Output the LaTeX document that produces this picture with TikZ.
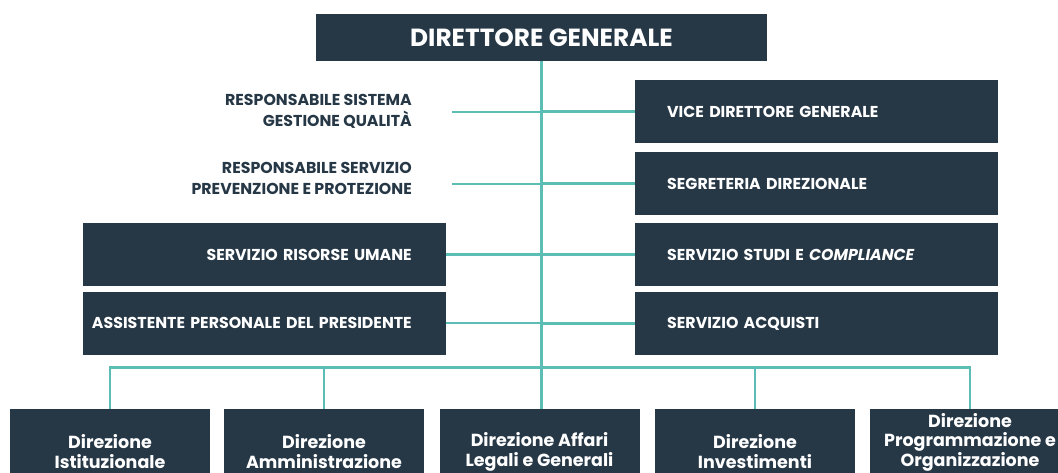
\documentclass[tikz,border=0pt]{standalone}
\usepackage{fontspec}
\setmainfont{Poppins}
\usetikzlibrary{positioning}

\definecolor{boxnavy}{HTML}{263746}
\definecolor{lineteal}{HTML}{5CBDB4}

\tikzset{
  conn/.style={draw=lineteal, line width=2.6pt},
  rbox/.style={fill=boxnavy, text=white, minimum height=63, text width=299,
    inner xsep=32, inner ysep=0, align=left, anchor=west,
    font=\bfseries\fontsize{15.8}{18}\selectfont},
  lbox/.style={rbox, text width=345, inner xsep=9, align=right, anchor=east,
    execute at end node={\hspace*{25pt}}},
  plain/.style={text=boxnavy, inner sep=0, align=right, anchor=east,
    font=\bfseries\fontsize{15.8}{21}\selectfont},
  bbox/.style={fill=boxnavy, text=white, minimum width=200, minimum height=85,
    inner sep=0, align=center, anchor=north,
    font=\bfseries\fontsize{17.5}{20}\selectfont}
}

\begin{document}
\begin{tikzpicture}[x=1pt,y=-1pt]
\clip (0,0) rectangle (1058,473);

\node[fill=boxnavy, text=white, minimum width=451, minimum height=47,
  font=\bfseries\fontsize{24.8}{28}\selectfont] (dg) at (541.5,37.5) {DIRETTORE GENERALE};

\node[rbox] (vdg) at (635,111.5) {VICE DIRETTORE GENERALE};
\node[rbox] (segr) at (635,183.5) {SEGRETERIA DIREZIONALE};
\node[rbox] (studi) at (635,254.5) {SERVIZIO STUDI E \textit{COMPLIANCE}};
\node[rbox] (acq) at (635,323.5) {SERVIZIO ACQUISTI};

\node[plain] (rsq) at (412,111) {RESPONSABILE SISTEMA\\GESTIONE QUALITÀ};
\node[plain] (rspp) at (412,178) {RESPONSABILE SERVIZIO\\PREVENZIONE E PROTEZIONE};
\node[lbox] (ru) at (446,254.5) {SERVIZIO RISORSE UMANE};
\node[lbox] (app) at (446,323) {ASSISTENTE PERSONALE DEL PRESIDENTE};

\node[bbox] (box0) at (110,409) {Direzione\\Istituzionale};
\node[bbox] (box1) at (324,409) {Direzione\\Amministrazione};
\node[bbox] (box2) at (539.5,409) {Direzione Affari\\Legali e Generali};
\node[bbox] (box3) at (755,409) {Direzione\\Investimenti};
\node[bbox, text depth=24, font=\bfseries\fontsize{17.5}{19.5}\selectfont] (box4) at (970,409)
  {Direzione\\Programmazione e\\Organizzazione};

\coordinate (bus) at (541.5,367.5);
\coordinate (rsqend) at (452,112);
\coordinate (rsppend) at (452,184);

\draw[conn] (dg.south) -- (dg.south |- box2.north);
\draw[conn] (dg.south |- vdg.west) -- (vdg.west);
\draw[conn] (dg.south |- segr.west) -- (segr.west);
\draw[conn] (dg.south |- studi.west) -- (studi.west);
\draw[conn] (dg.south |- acq.west) -- (acq.west);
\draw[conn] (dg.south |- rsqend) -- (rsqend);
\draw[conn] (dg.south |- rsppend) -- (rsppend);
\draw[conn] (dg.south |- ru.east) -- (ru.east);
\draw[conn] (dg.south |- app.east) -- (app.east);

\draw[conn] (box0.north) |- (bus) -| (box4.north);
\draw[conn] (box1.north) -- (box1.north |- bus);
\draw[conn] (box3.north) -- (box3.north |- bus);

\end{tikzpicture}
\end{document}
